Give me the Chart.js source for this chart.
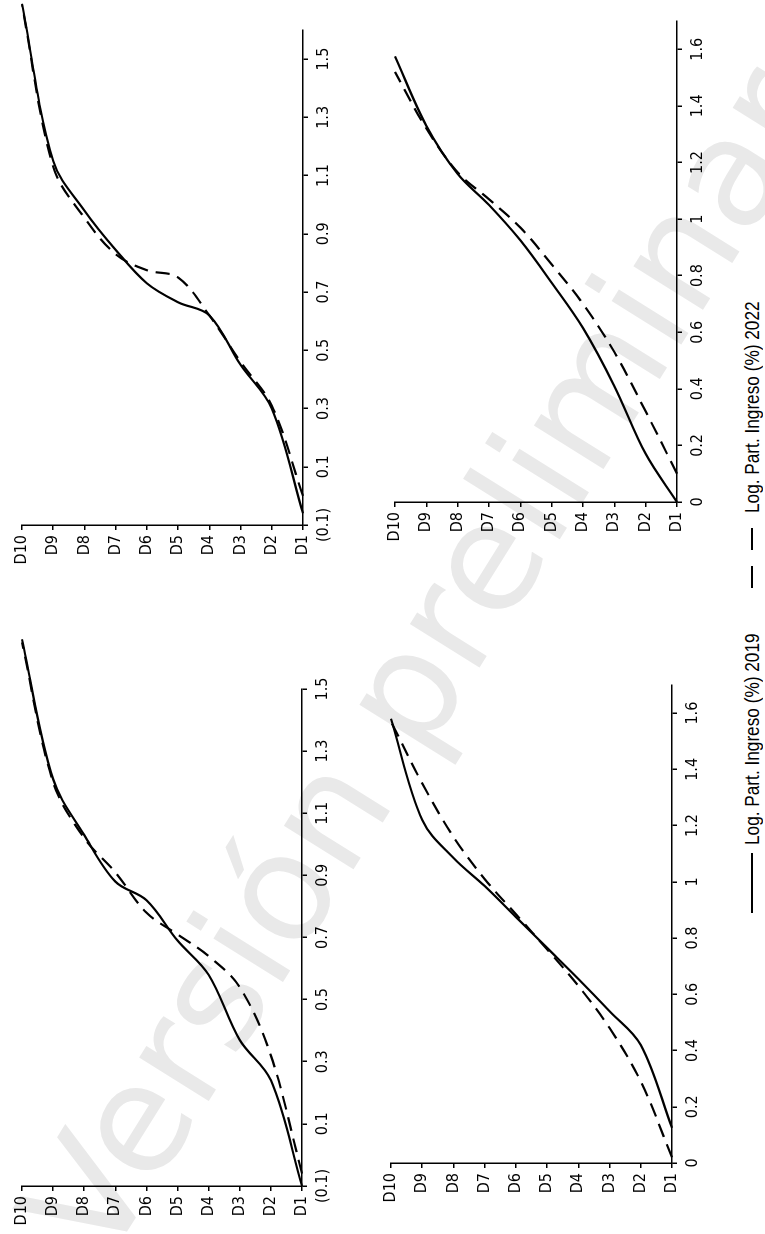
<!DOCTYPE html>
<html lang="es">
<head>
<meta charset="UTF-8">
<title>Log. Part. Ingreso por decil</title>
<script src="https://cdn.jsdelivr.net/npm/chart.js"></script>
<style>
  html, body { margin: 0; padding: 0; background: #fff; overflow: hidden; }
  body { width: 765px; height: 1234px; position: relative; }
  /* the figure is laid out landscape and turned a quarter turn */
  #fig {
    position: absolute; left: 0; top: 1234px;
    width: 1234px; height: 765px;
    transform-origin: 0 0; transform: rotate(-90deg);
    overflow: hidden;
  }
  #fig canvas { position: absolute; }
  .mark {
    position: absolute; left: 0; top: -25px; height: 150px; line-height: 150px;
    font: 150px 'DejaVu Sans', sans-serif; color: #e9e9e9; white-space: nowrap;
    transform-origin: 0 50%; transform: rotate(32deg);
  }
  .key { position: absolute; font: 21px 'Liberation Sans', Arial, sans-serif;
         line-height: 24px; color: #000; white-space: nowrap;
         transform-origin: 0 50%; transform: scaleX(0.82); }
  .sym { position: absolute; height: 2px; width: 60px; }
</style>
</head>
<body>
<div id="fig">
  <div class="mark">Versión preliminar</div>
  <canvas id="c1"></canvas>
  <canvas id="c2"></canvas>
  <canvas id="c3"></canvas>
  <canvas id="c4"></canvas>
  <div class="sym" style="left:321px; top:751px; background:#000;"></div>
  <div class="key" style="left:389px; top:740px;">Log. Part. Ingreso (%) 2019</div>
  <div class="sym" style="left:646px; top:751px; background:repeating-linear-gradient(to right,#000 0 22px,transparent 22px 38px);"></div>
  <div class="key" style="left:721px; top:740px;">Log. Part. Ingreso (%) 2022</div>
</div>

<script>
const deciles = ['D1', 'D2', 'D3', 'D4', 'D5', 'D6', 'D7', 'D8', 'D9', 'D10'];
const ticksFrom01 = [-0.1, 0.1, 0.3, 0.5, 0.7, 0.9, 1.1, 1.3, 1.5];
const ticksFrom0 = [0, 0.2, 0.4, 0.6, 0.8, 1, 1.2, 1.4, 1.6];

// values per decile, D1 .. D10
const topLeft2019 = [-0.1, 0.24, 0.37, 0.58, 0.69, 0.82, 0.88, 1.03, 1.21, 1.66];
const topLeft2022 = [-0.06, 0.32, 0.54, 0.64, 0.71, 0.78, 0.91, 1.02, 1.2, 1.65];
const topRight2019 = [-0.06, 0.30, 0.45, 0.62, 0.665, 0.73, 0.845, 0.98, 1.15, 1.69];
const topRight2022 = [0.0, 0.31, 0.46, 0.62, 0.75, 0.775, 0.83, 0.955, 1.13, 1.685];
const bottomLeft2019 = [0.125, 0.42, 0.54, 0.655, 0.765, 0.875, 0.985, 1.085, 1.22, 1.58];
const bottomLeft2022 = [0.02, 0.29, 0.48, 0.63, 0.76, 0.885, 1.01, 1.16, 1.35, 1.57];
const bottomRight2019 = [0.0, 0.17, 0.41, 0.615, 0.775, 0.925, 1.05, 1.16, 1.33, 1.575];
const bottomRight2022 = [0.1, 0.32, 0.53, 0.70, 0.84, 0.97, 1.07, 1.165, 1.32, 1.52];

const tickFont = { family: "'Liberation Sans Narrow', 'DejaVu Sans Condensed', 'DejaVu Sans', sans-serif", size: 16 };

function fmt(v) {
  if (v < 0) return '(' + Math.abs(v).toFixed(1) + ')';
  return String(+v.toFixed(1));
}

function panel(id, box, xMin, xMax, xTicks, s2019, s2022) {
  const cv = document.getElementById(id);
  const padTop = 20, padRight = 75, yw = 46, xh = 46;
  cv.width = box.r - box.l + yw + padRight;
  cv.height = box.b - box.t + padTop + xh;
  cv.style.left = (box.l - yw) + 'px';
  cv.style.top = (box.t - padTop) + 'px';

  const pts = arr => arr.map((v, i) => ({ x: v, y: i + 1 }));
  const axisGrid = { drawOnChartArea: false, drawTicks: true, tickLength: 5, color: '#000', lineWidth: 1.5 };

  new Chart(cv.getContext('2d'), {
    type: 'line',
    data: {
      datasets: [
        { label: 'Log. Part. Ingreso (%) 2019', data: pts(s2019), borderColor: '#000', borderWidth: 2.2 },
        { label: 'Log. Part. Ingreso (%) 2022', data: pts(s2022), borderColor: '#000', borderWidth: 2.2, borderDash: [14, 8] }
      ]
    },
    options: {
      responsive: false,
      animation: false,
      devicePixelRatio: 1,
      layout: { padding: { top: padTop, right: padRight, left: 0, bottom: 0 } },
      elements: {
        point: { radius: 0 },
        line: { tension: 0.35, capBezierPoints: false, fill: false }
      },
      datasets: { line: { clip: false } },
      scales: {
        x: {
          type: 'linear', min: xMin, max: xMax,
          afterBuildTicks: s => { s.ticks = xTicks.map(v => ({ value: v })); },
          afterFit: s => { s.height = xh; },
          ticks: { callback: v => fmt(v), font: tickFont, color: '#000', padding: 6, maxRotation: 0, autoSkip: false },
          grid: axisGrid,
          border: { color: '#000', width: 1.5 }
        },
        y: {
          type: 'linear', min: 1, max: 10,
          afterBuildTicks: s => { s.ticks = deciles.map((d, i) => ({ value: i + 1 })); },
          afterFit: s => { s.width = yw; },
          ticks: { callback: v => deciles[v - 1], font: tickFont, color: '#000', padding: 5, autoSkip: false },
          grid: axisGrid,
          border: { color: '#000', width: 1.5 }
        }
      },
      plugins: { legend: { display: false }, tooltip: { enabled: false } }
    }
  });
}

panel('c1', { l: 48, r: 545, t: 22, b: 302 }, -0.1, 1.5, ticksFrom01, topLeft2019, topLeft2022);
panel('c2', { l: 709, r: 1204, t: 22, b: 303 }, -0.1, 1.6, ticksFrom01, topRight2019, topRight2022);
panel('c3', { l: 71, r: 549, t: 391, b: 672 }, 0, 1.7, ticksFrom0, bottomLeft2019, bottomLeft2022);
panel('c4', { l: 732, r: 1213, t: 395, b: 677 }, 0, 1.7, ticksFrom0, bottomRight2019, bottomRight2022);
</script>
</body>
</html>
